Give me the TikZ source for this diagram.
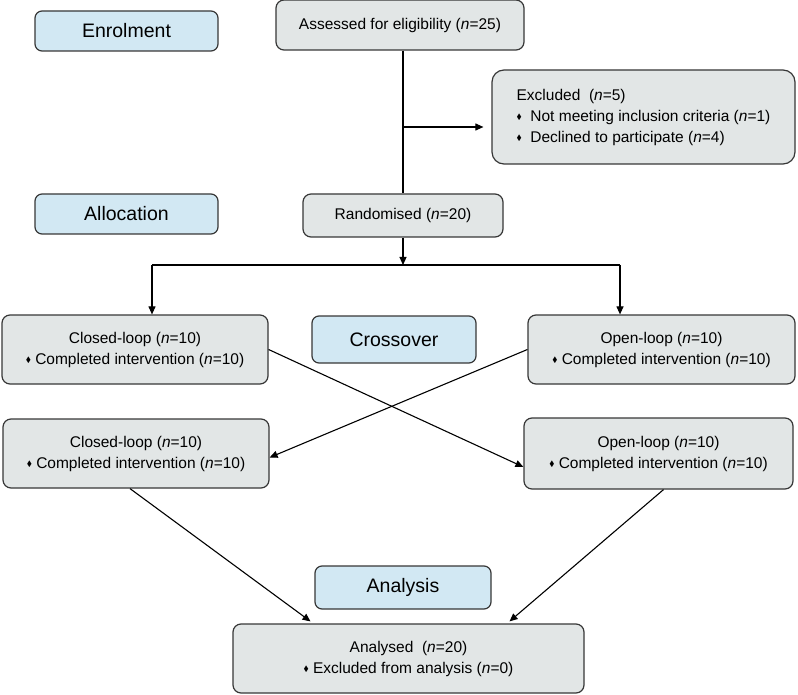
\documentclass[tikz,border=0pt]{standalone}
\usepackage{amssymb}
\usepackage{fontspec}
\setmainfont{Liberation Sans}
\usetikzlibrary{arrows.meta}

\definecolor{boxgrey}{RGB}{226,230,230}
\definecolor{stageblue}{RGB}{210,232,243}
\definecolor{edge}{RGB}{55,55,55}

\newcommand{\bul}{\raisebox{0.2ex}{\scalebox{0.5}{$\blacklozenge$}}}
\newcommand{\nn}{\textit{n}}

\begin{document}
\begin{tikzpicture}[x=1pt, y=-1pt,
    box/.style={rectangle, rounded corners=8pt, draw=edge, line width=1.2pt,
                fill=boxgrey, align=center, inner sep=0pt,
                font=\fontsize{15.5}{21}\selectfont},
    stage/.style={rectangle, rounded corners=7pt, draw=edge, line width=1.2pt,
                  fill=stageblue, align=center, inner sep=0pt,
                  font=\fontsize{19.5}{23}\selectfont},
    arr/.style={-{Triangle[length=8pt, width=7pt]}, line width=1.1pt, draw=black}]

        \useasboundingbox (0,0) rectangle (798,695);

        \node[stage, minimum width=183pt, minimum height=40pt] (st_enrol)
            at (126.5,31) {Enrolment};

        \node[box, minimum width=248pt, minimum height=50pt] (assess)
            at (400,25) {Assessed for eligibility (\nn=25)};

        \node[box, rounded corners=12pt, align=left,
              minimum width=303pt, minimum height=94pt] (excluded)
            at (643.5,117)
            {Excluded\ \ (\nn=5)\\
             \bul\ \ Not meeting inclusion criteria (\nn=1)\\
             \bul\ \ Declined to participate (\nn=4)};

        \node[stage, minimum width=183pt, minimum height=40pt] (st_alloc)
            at (126.5,214) {Allocation};

        \node[box, minimum width=200pt, minimum height=43pt] (rand)
            at (403,215.5) {Randomised (\nn=20)};

        \node[box, minimum width=266pt, minimum height=69pt] (closed_1)
            at (135,349.5)
            {Closed-loop (\nn=10)\\ \bul\ Completed intervention (\nn=10)};

        \node[stage, minimum width=164pt, minimum height=47pt] (st_cross)
            at (394,339.5) {Crossover};

        \node[box, minimum width=267pt, minimum height=69pt] (open_1)
            at (661.5,349.5)
            {Open-loop (\nn=10)\\ \bul\ Completed intervention (\nn=10)};

        \node[box, minimum width=266pt, minimum height=69pt] (closed_2)
            at (136,453.5)
            {Closed-loop (\nn=10)\\ \bul\ Completed intervention (\nn=10)};

        \node[box, minimum width=269pt, minimum height=71pt] (open_2)
            at (658.5,453.5)
            {Open-loop (\nn=10)\\ \bul\ Completed intervention (\nn=10)};

        \node[stage, minimum width=176pt, minimum height=43pt] (st_analysis)
            at (403,587.5) {Analysis};

        \node[box, minimum width=351pt, minimum height=69pt] (analysed)
            at (408.5,658.5)
            {Analysed\ \ (\nn=20)\\ \bul\ Excluded from analysis (\nn=0)};

        \coordinate (split) at (403,127);
        \coordinate (fork) at (403,265);
        \coordinate (fork_l) at (152,265);
        \coordinate (fork_r) at (620,265);

        \draw[line width=1.1pt] (rand.north |- assess.south) -- (rand.north);
        \draw[arr, shorten >=8pt] (split) -- (split -| excluded.west);

        \draw[arr] (rand.south) -- (fork);
        \draw[line width=1.1pt] (fork_l) -- (fork_r);
        \draw[arr] (fork_l) -- (fork_l |- closed_1.north);
        \draw[arr] (fork_r) -- (fork_r |- open_1.north);

        \draw[arr] (closed_1.east) -- ([yshift=-13.5pt]open_2.west);
        \draw[arr] (open_1.west) -- ([yshift=-4pt]closed_2.east);

        \draw[arr] ([xshift=-6pt]closed_2.south) -- ([xshift=-98pt, yshift=2pt]analysed.north);
        \draw[arr] ([xshift=5pt]open_2.south) -- ([xshift=101pt, yshift=2pt]analysed.north);

    \end{tikzpicture}
\end{document}
